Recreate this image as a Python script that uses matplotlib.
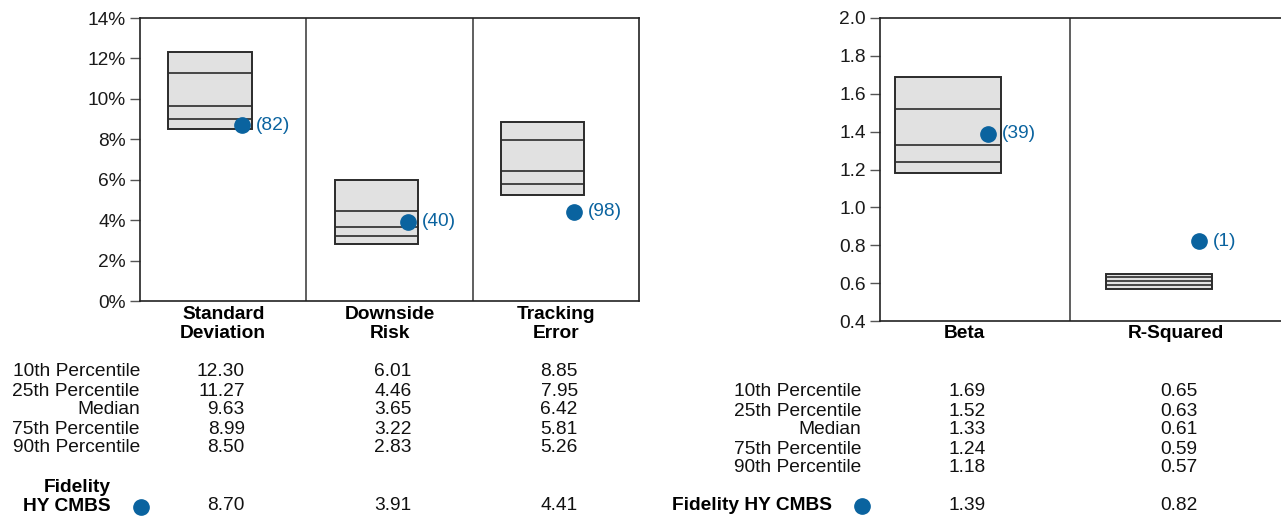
import matplotlib
matplotlib.use('Agg')
import matplotlib.pyplot as plt
import matplotlib.transforms as mtransforms
from matplotlib.ticker import FuncFormatter
import numpy as np

plt.rcParams['font.family'] = ['Liberation Sans', 'DejaVu Sans']

# left panel: risk measures (%)
left_metrics = ['Standard\nDeviation', 'Downside\nRisk', 'Tracking\nError']
left_p10 = [12.30, 6.01, 8.85]
left_p25 = [11.27, 4.46, 7.95]
left_med = [9.63, 3.65, 6.42]
left_p75 = [8.99, 3.22, 5.81]
left_p90 = [8.50, 2.83, 5.26]
left_fund = [8.70, 3.91, 4.41]
left_rank = [82, 40, 98]

# right panel: beta / r-squared
right_metrics = ['Beta', 'R-Squared']
right_p10 = [1.69, 0.65]
right_p25 = [1.52, 0.63]
right_med = [1.33, 0.61]
right_p75 = [1.24, 0.59]
right_p90 = [1.18, 0.57]
right_fund = [1.39, 0.82]
right_rank = [39, 1]

row_names = ['10th Percentile', '25th Percentile', 'Median', '75th Percentile', '90th Percentile']
fund_name = 'Fidelity HY CMBS'

W, H = 1281, 516
BLUE = '#0a639f'
FS = 13.8
LS = 1.12

fig = plt.figure(figsize=(W / 100, H / 100), dpi=100)


def fx(px):
    return px / W


def fy(py):
    return 1 - py / H


def draw_panel(ax, metrics, p10, p25, med, p75, p90, fund, rank):
    x = np.arange(len(metrics))
    p10, p25, med, p75, p90 = map(np.array, (p10, p25, med, p75, p90))
    ax.bar(x, p10 - p90, bottom=p90, width=0.5, color='#e1e1e1',
           edgecolor='#2b2b2b', linewidth=1.4, zorder=2)
    for vals in (p25, med, p75):
        ax.hlines(vals, x - 0.25, x + 0.25, color='#2b2b2b', linewidth=1.2, zorder=3)
    ax.plot(x + 0.19, fund, 'o', color=BLUE, markersize=11, zorder=4)
    for xi, yi, r in zip(x, fund, rank):
        ax.annotate('(%d)' % r, (xi + 0.19, yi), xytext=(10, 0),
                    textcoords='offset points', va='center', ha='left',
                    color=BLUE, fontsize=FS)
    for d in x[:-1] + 0.58:
        ax.axvline(d, color='#444444', linewidth=1.2, zorder=1)
    ax.set_xticks([])
    for s in ax.spines.values():
        s.set_color('#222222')
        s.set_linewidth(1.2)
    ax.tick_params(axis='y', length=7, width=1, color='#555555',
                   labelsize=FS, labelcolor='#1a1a1a', pad=3)
    return x


# ---- left panel
axL = fig.add_axes([fx(140), fy(301), fx(498.5), 283 / H])
xL = draw_panel(axL, left_metrics, left_p10, left_p25, left_med, left_p75,
                left_p90, left_fund, left_rank)
axL.set_xlim(-0.42, 2.575)
axL.set_ylim(0, 14)
axL.set_yticks(np.arange(0, 15, 2))
axL.yaxis.set_major_formatter(FuncFormatter(lambda v, p: '%d%%' % v))

# ---- right panel
axR = fig.add_axes([fx(880), fy(321), fx(402), 303 / H])
xR = draw_panel(axR, right_metrics, right_p10, right_p25, right_med, right_p75,
                right_p90, right_fund, right_rank)
axR.set_xlim(-0.32, 1.58)
axR.set_ylim(0.4, 2.0)
axR.set_yticks(np.arange(0.4, 2.01, 0.2))
axR.yaxis.set_major_formatter(FuncFormatter(lambda v, p: '%.1f' % v))
axR.spines['right'].set_visible(False)

# category labels
trL = mtransforms.blended_transform_factory(axL.transData, fig.transFigure)
trR = mtransforms.blended_transform_factory(axR.transData, fig.transFigure)
for xi, m in zip(xL, left_metrics):
    fig.text(xi + 0.08, fy(324), m, transform=trL, ha='center', va='center',
             fontsize=FS, fontweight='bold', linespacing=LS)
for xi, m in zip(xR, right_metrics):
    fig.text(xi + 0.08, fy(333), m, transform=trR, ha='center', va='center',
             fontsize=FS, fontweight='bold')

# ---- tables below
left_rows = [372, 391, 410, 429, 448]
right_rows = [392, 411, 430, 449, 467]
left_stats = [left_p10, left_p25, left_med, left_p75, left_p90]
right_stats = [right_p10, right_p25, right_med, right_p75, right_p90]

for name, ry, vals in zip(row_names, left_rows, left_stats):
    fig.text(fx(140), fy(ry), name, ha='right', va='center', fontsize=FS, color='#111111')
    for xi, v in zip(xL, vals):
        fig.text(xi + 0.21, fy(ry), '%.2f' % v, transform=trL, ha='right',
                 va='center', fontsize=FS, color='#111111')
for name, ry, vals in zip(row_names, right_rows, right_stats):
    fig.text(fx(861), fy(ry), name, ha='right', va='center', fontsize=FS, color='#111111')
    for xi, v in zip(xR, vals):
        fig.text(xi + 0.18, fy(ry), '%.2f' % v, transform=trR, ha='right',
                 va='center', fontsize=FS, color='#111111')

# fund rows
fig.text(fx(111), fy(497), 'Fidelity\nHY CMBS', ha='right', va='center',
         fontsize=FS, fontweight='bold', linespacing=LS)
fig.add_artist(plt.Line2D([fx(141)], [fy(507)], marker='o', color=BLUE,
                          markersize=11, transform=fig.transFigure))
for xi, v in zip(xL, left_fund):
    fig.text(xi + 0.21, fy(506), '%.2f' % v, transform=trL, ha='right',
             va='center', fontsize=FS, color='#111111')

fig.text(fx(832), fy(506), fund_name, ha='right', va='center',
         fontsize=FS, fontweight='bold')
fig.add_artist(plt.Line2D([fx(862)], [fy(506)], marker='o', color=BLUE,
                          markersize=11, transform=fig.transFigure))
for xi, v in zip(xR, right_fund):
    fig.text(xi + 0.18, fy(506), '%.2f' % v, transform=trR, ha='right',
             va='center', fontsize=FS, color='#111111')

fig.savefig('out.png', dpi=100)
